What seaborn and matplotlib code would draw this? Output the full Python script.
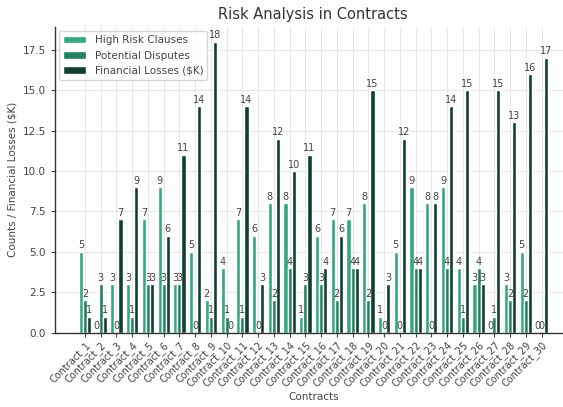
"""
Grouped bar chart of contract risk metrics (counts and losses per contract).
"""

from matplotlib import pyplot as plt
import pandas as pd
import seaborn as sns

contracts = [f"Contract_{i}" for i in range(1, 31)]
high_risk = [5, 0, 3, 3, 7, 9, 3, 5, 2, 4, 7, 6, 8, 8, 1, 6, 7, 7, 8, 1, 5, 9, 8, 9, 4, 3, 0, 3, 5, 0]
disputes = [2, 3, 0, 1, 3, 3, 3, 0, 1, 1, 1, 0, 2, 4, 3, 3, 2, 4, 2, 0, 0, 4, 0, 4, 1, 4, 1, 2, 2, 0]
losses = [1, 1, 7, 9, 3, 6, 11, 14, 18, 0, 14, 3, 12, 10, 11, 4, 6, 4, 15, 3, 12, 4, 8, 14, 15, 3, 15, 13, 16, 17]

series_names = ["High Risk Clauses", "Potential Disputes", "Financial Losses ($K)"]
colors = ["#31a880", "#1f815d", "#0f402c"]

df = pd.DataFrame({
    "Contract": contracts * 3,
    "Value": high_risk + disputes + losses,
    "Metric": [series_names[0]] * 30 + [series_names[1]] * 30 + [series_names[2]] * 30,
})

sns.set_style("whitegrid")
plt.rcParams["font.family"] = ["DejaVu Sans"]
text_col = "#444444"

fig = plt.figure(figsize=(5.63, 4.07), dpi=100)
ax = fig.add_axes([0.0977, 0.1826, 0.9174, 0.751])

sns.barplot(data=df, x="Contract", y="Value", hue="Metric", palette=colors,
            width=0.78, dodge=True, saturation=1, ax=ax, errorbar=None)

# value labels on top of each bar
for cont in ax.containers:
    ax.bar_label(cont, fmt="%d", fontsize=7, color=text_col, padding=1)

ax.set_xlim(-1.9, 30.9)
ax.set_ylim(0, 18.9)
ax.set_yticks([0, 2.5, 5, 7.5, 10, 12.5, 15, 17.5])
ax.set_yticklabels(["0.0", "2.5", "5.0", "7.5", "10.0", "12.5", "15.0", "17.5"])
ax.tick_params(axis="y", labelsize=7.5, colors=text_col, length=3, left=True)
ax.tick_params(axis="x", labelsize=7, colors=text_col, length=3, bottom=True, pad=2)
plt.setp(ax.get_xticklabels(), rotation=45, ha="right", rotation_mode="anchor")

ax.grid(True, color="#e3e3e3", linestyle="-", linewidth=0.6)
sns.despine(ax=ax)
for s in ["left", "bottom"]:
    ax.spines[s].set_color("#333333")
    ax.spines[s].set_linewidth(1.0)

ax.set_title("Risk Analysis in Contracts", fontsize=10.5, color="#333333")
ax.set_xlabel("Contracts", fontsize=7.5, color=text_col, labelpad=2)
ax.set_ylabel("Counts / Financial Losses ($K)", fontsize=7.5, color=text_col)

leg = ax.legend(loc="upper left", fontsize=7.5, frameon=True, title=None,
                handlelength=2.2, borderaxespad=0.4)
for t in leg.get_texts():
    t.set_color(text_col)

fig.savefig("out.png", dpi=100)
